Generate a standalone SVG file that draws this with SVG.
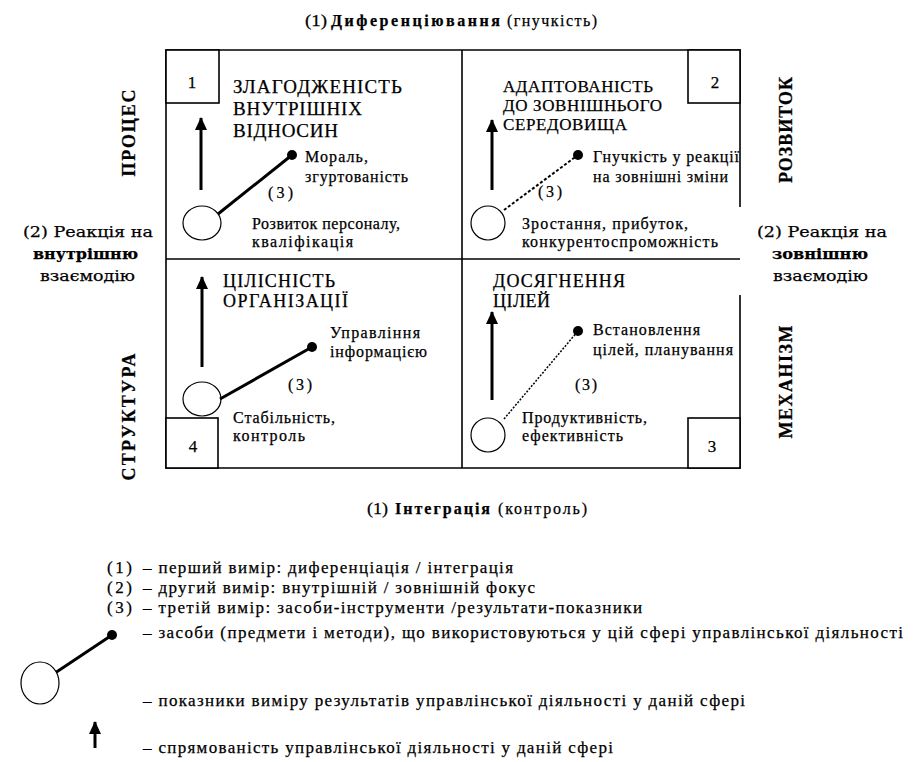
<svg xmlns="http://www.w3.org/2000/svg" width="919" height="762" viewBox="0 0 919 762">
  <style>
    text { font-family: "Liberation Serif", "Times New Roman", serif; fill: #000; stroke: #000; stroke-width: 0.25; }
    .ttl { font-size: 18px; }
    .t19 { font-size: 19px; }
    .t17 { font-size: 17px; }
    .lbl { font-size: 16px; }
    .num { font-size: 17px; text-anchor: middle; }
    .axis { font-size: 16px; }
    .wide { font-family: "DejaVu Serif", "Liberation Serif", serif; font-size: 15.5px; }
    .side { font-size: 18px; font-weight: bold; text-anchor: middle; }
    .leg { font-size: 17px; }
    .b { font-weight: bold; }
    .frame { fill: none; stroke: #000; stroke-width: 1.6; }
    .box { fill: #fff; stroke: #000; stroke-width: 1.6; }
    .ring { fill: #fff; stroke: #000; stroke-width: 1.2; }
    .dot { fill: #000; }
    .arrow { stroke: #000; stroke-width: 3; marker-end: url(#head); }
    .tool { stroke: #000; stroke-width: 3; fill: none; }
    .tool-dash { stroke: #000; stroke-width: 2; stroke-dasharray: 3 2; fill: none; }
    .tool-dot { stroke: #000; stroke-width: 1.5; stroke-dasharray: 2 1.5; fill: none; }
  </style>
  <defs>
    <marker id="head" viewBox="0 0 13 12" refX="12" refY="6" markerWidth="13" markerHeight="12" markerUnits="userSpaceOnUse" orient="auto">
      <path d="M0,0 L13,6 L0,12 z" fill="#000"/>
    </marker>
  </defs>
  <rect width="919" height="762" fill="#fff"/>

  <!-- axis captions -->
  <g id="axis-top">
    <text class="axis" x="305" y="26" textLength="22" lengthAdjust="spacingAndGlyphs">(1)</text>
    <text class="axis b" x="331" y="26" textLength="169" lengthAdjust="spacing">Диференціювання</text>
    <text class="axis" x="507" y="26" textLength="90" lengthAdjust="spacing">(гнучкість)</text>
  </g>
  <g id="axis-bottom">
    <text class="axis" x="367" y="514" textLength="21" lengthAdjust="spacingAndGlyphs">(1)</text>
    <text class="axis b" x="395" y="514" textLength="95" lengthAdjust="spacing">Інтеграція</text>
    <text class="axis" x="498" y="514" textLength="89" lengthAdjust="spacing">(контроль)</text>
  </g>
  <g id="axis-left">
    <text class="wide" x="23" y="237" textLength="130" lengthAdjust="spacingAndGlyphs">(2) Реакція на</text>
    <text class="wide b" x="33" y="259" textLength="105" lengthAdjust="spacingAndGlyphs">внутрішню</text>
    <text class="wide" x="40" y="281" textLength="95" lengthAdjust="spacingAndGlyphs">взаємодію</text>
  </g>
  <g id="axis-right">
    <text class="wide" x="757" y="237" textLength="130" lengthAdjust="spacingAndGlyphs">(2) Реакція на</text>
    <text class="wide b" x="772" y="259" textLength="96" lengthAdjust="spacingAndGlyphs">зовнішню</text>
    <text class="wide" x="773" y="281" textLength="95" lengthAdjust="spacingAndGlyphs">взаємодію</text>
  </g>

  <!-- vertical side captions -->
  <g id="side-labels">
    <text class="side" transform="translate(135,133) rotate(-90)" textLength="87" lengthAdjust="spacing">ПРОЦЕС</text>
    <text class="side" transform="translate(135,417) rotate(-90)" textLength="127" lengthAdjust="spacing">СТРУКТУРА</text>
    <text class="side" transform="translate(792,130) rotate(-90)" textLength="106" lengthAdjust="spacing">РОЗВИТОК</text>
    <text class="side" transform="translate(792,382) rotate(-90)" textLength="113" lengthAdjust="spacing">МЕХАНІЗМ</text>
  </g>

  <!-- outer frame and quadrant dividers -->
  <g id="frame">
    <path class="frame" d="M740,207 L740,50 L166,50 L166,468 L740,468 L740,295"/>
    <line class="frame" x1="462" y1="50" x2="462" y2="468"/>
    <line class="frame" x1="166" y1="259" x2="740" y2="259"/>
  </g>

  <!-- quadrant 1 -->
  <g id="q1">
    <rect class="box" x="166" y="50" width="53" height="53"/>
    <text class="num" x="192" y="88">1</text>
    <text class="t19" x="233" y="93" textLength="169" lengthAdjust="spacing">ЗЛАГОДЖЕНІСТЬ</text>
    <text class="t19" x="233" y="115" textLength="129" lengthAdjust="spacing">ВНУТРІШНІХ</text>
    <text class="t19" x="233" y="137" textLength="105" lengthAdjust="spacing">ВІДНОСИН</text>
    <ellipse class="ring" cx="202" cy="223" rx="19" ry="17"/>
    <circle class="dot" cx="292" cy="155" r="5"/>
    <text class="lbl" x="305" y="162" textLength="63" lengthAdjust="spacing">Мораль,</text>
    <text class="lbl" x="305" y="182" textLength="103" lengthAdjust="spacing">згуртованість</text>
    <text class="lbl" x="268" y="198" textLength="25" lengthAdjust="spacing">(3)</text>
    <text class="lbl" x="252" y="229" textLength="148" lengthAdjust="spacing">Розвиток персоналу,</text>
    <text class="lbl" x="252" y="247" textLength="101" lengthAdjust="spacing">кваліфікація</text>
  </g>

  <!-- quadrant 2 -->
  <g id="q2">
    <rect class="box" x="688" y="50" width="52" height="53"/>
    <text class="num" x="715" y="88">2</text>
    <text class="t17" x="503" y="92" textLength="150" lengthAdjust="spacing">АДАПТОВАНІСТЬ</text>
    <text class="t17" x="503" y="111" textLength="159" lengthAdjust="spacing">ДО ЗОВНІШНЬОГО</text>
    <text class="t17" x="503" y="130" textLength="124" lengthAdjust="spacing">СЕРЕДОВИЩА</text>
    <ellipse class="ring" cx="488" cy="223" rx="17" ry="17"/>
    <circle class="dot" cx="578" cy="155" r="5"/>
    <text class="lbl" x="593" y="162" textLength="146" lengthAdjust="spacing">Гнучкість у реакції</text>
    <text class="lbl" x="593" y="182" textLength="135" lengthAdjust="spacing">на зовнішні зміни</text>
    <text class="lbl" x="538" y="197" textLength="24" lengthAdjust="spacing">(3)</text>
    <text class="lbl" x="522" y="229" textLength="166" lengthAdjust="spacing">Зростання, прибуток,</text>
    <text class="lbl" x="522" y="247" textLength="196" lengthAdjust="spacing">конкурентоспроможність</text>
  </g>

  <!-- quadrant 4 -->
  <g id="q4">
    <rect class="box" x="166" y="418" width="52" height="50"/>
    <text class="num" x="193" y="452">4</text>
    <text class="ttl" x="223" y="287" textLength="112" lengthAdjust="spacing">ЦІЛІСНІСТЬ</text>
    <text class="ttl" x="223" y="307" textLength="125" lengthAdjust="spacing">ОРГАНІЗАЦІЇ</text>
    <ellipse class="ring" cx="202" cy="399" rx="19" ry="17"/>
    <circle class="dot" cx="312" cy="347" r="5"/>
    <text class="lbl" x="330" y="338" textLength="90" lengthAdjust="spacing">Управління</text>
    <text class="lbl" x="330" y="357" textLength="97" lengthAdjust="spacing">інформацією</text>
    <text class="lbl" x="288" y="390" textLength="24" lengthAdjust="spacing">(3)</text>
    <text class="lbl" x="233" y="423" textLength="102" lengthAdjust="spacing">Стабільність,</text>
    <text class="lbl" x="233" y="441" textLength="72" lengthAdjust="spacing">контроль</text>
  </g>

  <!-- quadrant 3 -->
  <g id="q3">
    <rect class="box" x="688" y="418" width="52" height="50"/>
    <text class="num" x="712" y="452">3</text>
    <text class="ttl" x="493" y="287" textLength="132" lengthAdjust="spacing">ДОСЯГНЕННЯ</text>
    <text class="ttl" x="493" y="307" textLength="57" lengthAdjust="spacing">ЦІЛЕЙ</text>
    <ellipse class="ring" cx="488" cy="435" rx="17" ry="17"/>
    <circle class="dot" cx="578" cy="331" r="5"/>
    <text class="lbl" x="593" y="335" textLength="107" lengthAdjust="spacing">Встановлення</text>
    <text class="lbl" x="593" y="355" textLength="140" lengthAdjust="spacing">цілей, планування</text>
    <text class="lbl" x="575" y="390" textLength="22" lengthAdjust="spacing">(3)</text>
    <text class="lbl" x="522" y="423" textLength="125" lengthAdjust="spacing">Продуктивність,</text>
    <text class="lbl" x="522" y="441" textLength="101" lengthAdjust="spacing">ефективність</text>
  </g>

  <!-- connectors: direction arrows and tool lines -->
  <g id="connectors">
    <line class="arrow" x1="201" y1="190" x2="201" y2="118"/>
    <line class="arrow" x1="492" y1="190" x2="492" y2="120"/>
    <line class="arrow" x1="202" y1="367" x2="202" y2="277"/>
    <line class="arrow" x1="492" y1="400" x2="492" y2="312"/>
    <line class="tool" x1="218" y1="214" x2="292" y2="155"/>
    <line class="tool-dash" x1="504" y1="210" x2="578" y2="155"/>
    <line class="tool" x1="220" y1="399" x2="312" y2="347"/>
    <line class="tool-dot" x1="504" y1="419" x2="578" y2="331"/>
  </g>

  <!-- legend -->
  <g id="legend">
    <text class="leg" x="107" y="573" textLength="25" lengthAdjust="spacing">(1)</text>
    <text class="leg" x="143" y="573" textLength="370" lengthAdjust="spacing">– перший вимір: диференціація / інтеграція</text>
    <text class="leg" x="107" y="593" textLength="25" lengthAdjust="spacing">(2)</text>
    <text class="leg" x="143" y="593" textLength="392" lengthAdjust="spacing">– другий вимір: внутрішній / зовнішній фокус</text>
    <text class="leg" x="107" y="613" textLength="25" lengthAdjust="spacing">(3)</text>
    <text class="leg" x="143" y="613" textLength="499" lengthAdjust="spacing">– третій вимір: засоби-інструменти /результати-показники</text>
    <line class="tool" x1="55" y1="673" x2="112" y2="635"/>
    <circle class="dot" cx="112" cy="635" r="5"/>
    <ellipse class="ring" cx="40" cy="683" rx="19" ry="21"/>
    <text class="leg" x="143" y="638" textLength="760" lengthAdjust="spacing">– засоби (предмети і методи), що використовуються у цій сфері управлінської діяльності</text>
    <text class="leg" x="143" y="706" textLength="602" lengthAdjust="spacing">– показники виміру результатів управлінської діяльності у даній сфері</text>
    <line class="arrow" x1="95" y1="748" x2="95" y2="722"/>
    <text class="leg" x="143" y="753" textLength="470" lengthAdjust="spacing">– спрямованість управлінської діяльності у даній сфері</text>
  </g>
</svg>
